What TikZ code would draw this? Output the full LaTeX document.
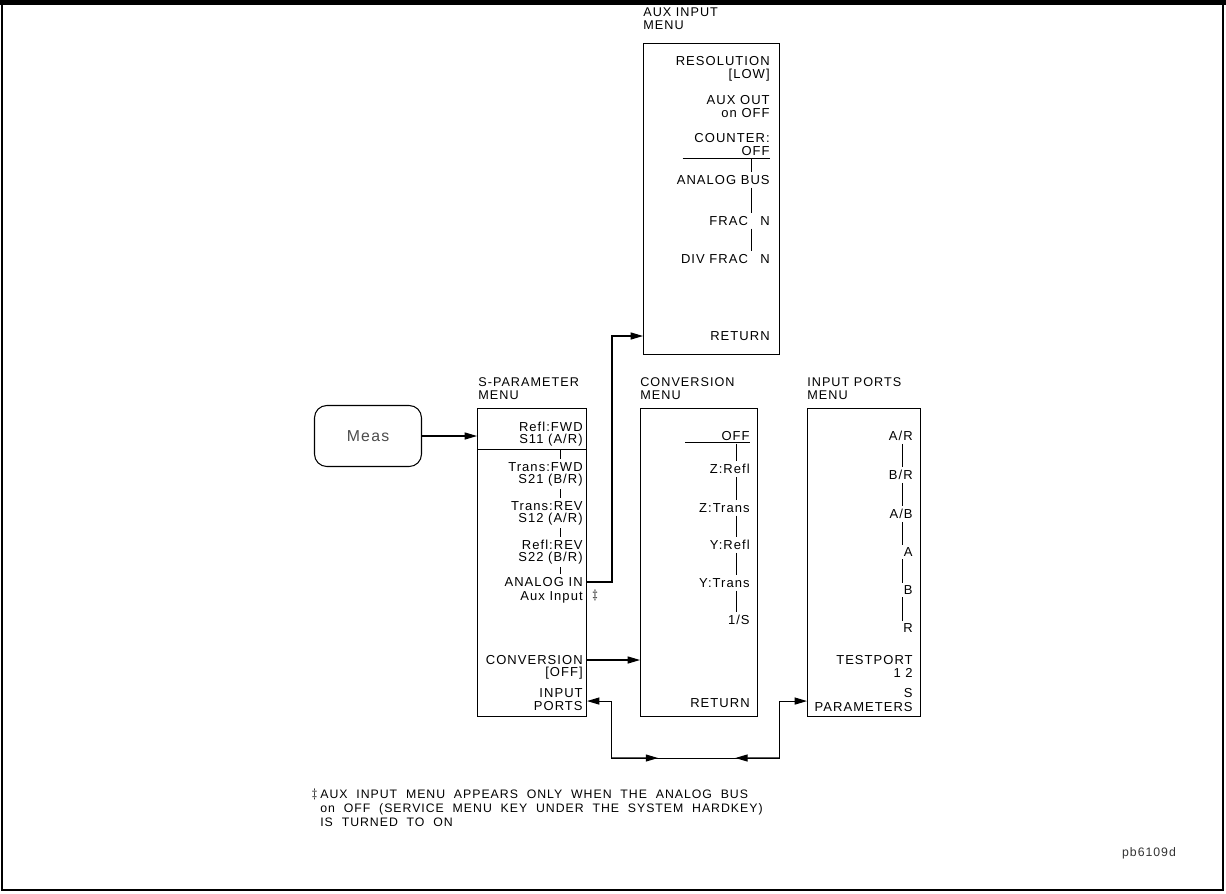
\documentclass[tikz,border=0pt]{standalone}
\usepackage{fontspec}
\setmainfont{Liberation Sans}[LetterSpace=8]
\usetikzlibrary{arrows.meta, positioning, calc}

\begin{document}
\begin{tikzpicture}[
    x=0.02cm, y=-0.02cm,
    >={Triangle[length=7pt, width=4pt]},
    menubox/.style={draw, line width=0.6pt, inner sep=0pt, anchor=north west},
    item/.style={anchor=east, inner sep=0pt, font=\fontsize{7.4}{8}\selectfont},
    heading/.style={anchor=north west, align=left, inner sep=0pt, font=\fontsize{7.2}{7.4}\selectfont},
    link/.style={->, line width=0.6pt},
    chain/.style={line width=0.5pt},
    sep/.style={line width=0.5pt, shorten <=1.5pt, shorten >=1.5pt},
]

% frame
\useasboundingbox (0,0) rectangle (1226,893);
\fill (0,0) rectangle (1226,5);
\draw[line width=1pt] (2,2) rectangle (1223,890);

% Meas hardkey
\node[draw, line width=0.6pt, rounded corners=7pt, minimum width=2.14cm, minimum height=1.22cm,
      font=\fontsize{9}{10}\selectfont, text=black!70] (meas) at (368,436) {Meas};

% S-parameter menu
\node[heading] (sptitle) at (478,377) {S-PARAMETER\\MENU};
\node[menubox, minimum width=2.18cm, minimum height=6.16cm] (spbox) at (477,408) {};
\foreach \n/\y/\t in {sp1/427/{Refl:FWD}, sp2/440/{S11 (A/R)}, sp3/467/{Trans:FWD},
    sp4/480/{S21 (B/R)}, sp5/506/{Trans:REV}, sp6/519/{S12 (A/R)}, sp7/545/{Refl:REV},
    sp8/558/{S22 (B/R)}, sp9/582/{ANALOG IN}, sp10/597/{Aux Input}, sp11/660/{CONVERSION},
    sp12/673/{[OFF]}, sp13/693/{INPUT}, sp14/706/{PORTS}}
  \node[item] (\n) at (583,\y) {\t};
\coordinate (spx) at (560,0);
\draw[chain] ([yshift=-1.5pt]spbox.west |- sp2.south) -- ([yshift=-1.5pt]sp2.south -| spbox.east);
\foreach \a/\b in {sp2/sp3, sp4/sp5, sp6/sp7, sp8/sp9}
  \draw[sep] (\a.south -| spx) -- (\b.north -| spx);
\node[inner sep=0pt, font=\fontsize{7}{8}\selectfont] (anmark) at (595,595) {$\ddagger$};

% Conversion menu
\node[heading] (cvtitle) at (640,377) {CONVERSION\\MENU};
\node[menubox, minimum width=2.34cm, minimum height=6.16cm] (cvbox) at (640,408) {};
\foreach \n/\y/\t in {cv1/436/{OFF}, cv2/469/{Z:Refl}, cv3/508/{Z:Trans}, cv4/545/{Y:Refl},
    cv5/583/{Y:Trans}, cv6/620/{1/S}, cv7/703/{RETURN}}
  \node[item] (\n) at (750,\y) {\t};
\coordinate (cvx) at (736,0);
\draw[chain] ([xshift=-1.3cm, yshift=-1pt]cv1.south east) -- ([yshift=-1pt]cv1.south east);
\foreach \a/\b in {cv1/cv2, cv2/cv3, cv3/cv4, cv4/cv5, cv5/cv6}
  \draw[sep] (\a.south -| cvx) -- (\b.north -| cvx);

% Input ports menu
\node[heading] (iptitle) at (807,377) {INPUT PORTS\\MENU};
\node[menubox, minimum width=2.26cm, minimum height=6.16cm] (ipbox) at (807,408) {};
\foreach \n/\y/\t in {ip1/436/{A/R}, ip2/475/{B/R}, ip3/514/{A/B}, ip4/552/{A}, ip5/590/{B},
    ip6/628/{R}, ip7/660/{TESTPORT}, ip8/673/{1 2}, ip9/693/{S}, ip10/707/{PARAMETERS}}
  \node[item] (\n) at (913,\y) {\t};
\coordinate (ipx) at (902,0);
\foreach \a/\b in {ip1/ip2, ip2/ip3, ip3/ip4, ip4/ip5, ip5/ip6}
  \draw[sep] (\a.south -| ipx) -- (\b.north -| ipx);

% Aux input menu
\node[heading] (axtitle) at (643,7) {AUX INPUT\\MENU};
\node[menubox, minimum width=2.72cm, minimum height=6.22cm] (axbox) at (643,43) {};
\foreach \n/\y/\t in {ax1/61/{RESOLUTION}, ax2/75/{[LOW]}, ax3/100/{AUX OUT}, ax4/113/{on OFF},
    ax5/138/{COUNTER:}, ax6/151/{OFF}, ax7/180/{ANALOG BUS}, ax8/221/{FRAC\hspace{7pt}N},
    ax9/259/{DIV FRAC\hspace{7pt}N}, ax10/336/{RETURN}}
  \node[item] (\n) at (770,\y) {\t};
\coordinate (axx) at (751,0);
\draw[chain] ([xshift=-1.75cm, yshift=-1.5pt]ax6.south east) -- ([yshift=-1.5pt]ax6.south east);
\foreach \a/\b in {ax6/ax7, ax7/ax8, ax8/ax9}
  \draw[sep] (\a.south -| axx) -- (\b.north -| axx);

% connections
\coordinate (anup) at (612,0);
\coordinate (busl) at (611,758);
\coordinate (busr) at (779,758);
\draw[link] (meas.east) -- (meas.east -| spbox.west);
\draw[link] (sp9.east -| spbox.east) -- (sp9.east -| anup) |- (axbox.west |- ax10);
\draw[link] (sp11.east -| spbox.east) -- (sp11.east -| cvbox.west);
\draw[link] (busl |- sp14.north) -- (sp14.north -| spbox.east);
\draw[chain] (busl |- sp14.north) -- (busl) -- (busr) -- (busr |- sp14.north);
\draw[link] (busr |- sp14.north) -- (sp14.north -| ipbox.west);
\draw[link] (busl) -- ($(busl)!0.28!(busr)$);
\draw[link] (busr) -- ($(busl)!0.74!(busr)$);

% footnote
\node[anchor=north west, align=left, inner sep=0pt, font=\fontsize{7}{7.8}\selectfont] (note) at (320,790)
  {AUX\ \ INPUT\ \ MENU\ \ APPEARS\ \ ONLY\ \ WHEN\ \ THE\ \ ANALOG\ \ BUS\\
   on\ \ OFF\ \ (SERVICE\ \ MENU\ \ KEY\ \ UNDER\ \ THE\ \ SYSTEM\ \ HARDKEY)\\
   IS\ \ TURNED\ \ TO\ \ ON};
\node[anchor=north east, inner sep=1pt, font=\fontsize{7}{8}\selectfont] (notemark) at ([yshift=2pt]note.north west) {$\ddagger$};
\node[inner sep=0pt, font=\fontsize{7}{8}\selectfont, text=black!80] (tag) at (1149,853) {pb6109d};

\end{tikzpicture}
\end{document}
